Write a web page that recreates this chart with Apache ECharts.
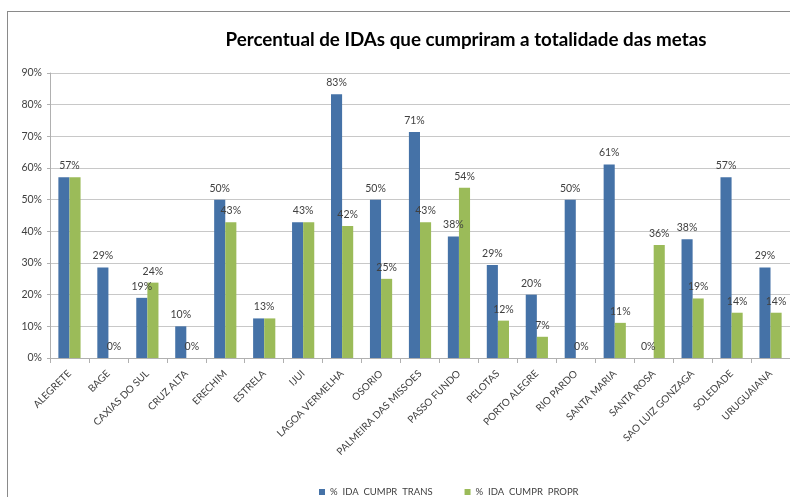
<!DOCTYPE html>
<html><head><meta charset="utf-8">
<script src="https://cdn.jsdelivr.net/npm/echarts@6/dist/echarts.min.js"></script>
<style>
html,body{margin:0;padding:0;background:#fff;}
#c{width:790px;height:497px;position:absolute;left:0;top:0;}
#frame{position:absolute;left:7px;top:11px;width:800px;height:500px;border-left:1.5px solid #8a8a8a;border-top:1.5px solid #8a8a8a;pointer-events:none;}
</style></head>
<body>
<div id="frame"></div>
<div id="c"></div>
<script>
var titleText = 'Percentual de IDAs que cumpriram a totalidade das metas';
var categories = ['ALEGRETE','BAGE','CAXIAS DO SUL','CRUZ ALTA','ERECHIM','ESTRELA','IJUI','LAGOA VERMELHA','OSORIO','PALMEIRA DAS MISSOES','PASSO FUNDO','PELOTAS','PORTO ALEGRE','RIO PARDO','SANTA MARIA','SANTA ROSA','SAO LUIZ GONZAGA','SOLEDADE','URUGUAIANA'];
var seriesNames = ['%  IDA  CUMPR  TRANS','%  IDA  CUMPR  PROPR'];
var transValues = [57.1, 28.6, 19.0, 10.0, 50.0, 12.5, 42.9, 83.3, 50.0, 71.4, 38.4, 29.4, 20.0, 50.0, 61.1, 0, 37.5, 57.1, 28.6];
var proprValues = [57.1, 0, 23.8, 0, 42.9, 12.5, 42.9, 41.7, 25.0, 42.9, 53.8, 11.8, 6.7, 0, 11.1, 35.7, 18.8, 14.3, 14.3];
var yTicks = [0,10,20,30,40,50,60,70,80,90];

var font = 'Lato, "Open Sans", sans-serif';
var chart = echarts.init(document.getElementById('c'), null, {renderer:'canvas'});
function pct(v){return Math.round(v)+'%';}
var baseLabel = {show:true, position:'top', distance:6, color:'#404040', fontSize:10.5, fontFamily:font};
function buildData(vals, other, isFirst){
  return vals.map(function(v,i){
    var same = Math.round(v) === Math.round(other[i]);
    if (same) {
      return isFirst ? {value:v, label:{offset:[5.5,0]}} : {value:v, label:{show:false}};
    }
    return v;
  });
}
chart.setOption({
  animation:false,
  backgroundColor:'transparent',
  title:{text:titleText, left:461, top:25, textAlign:'center',
    textStyle:{fontFamily:font, fontWeight:'bold', fontSize:18.8, color:'#000'}},
  legend:{top:482, left:314, itemWidth:6, itemHeight:6, itemGap:32,
    icon:'rect', data:seriesNames,
    textStyle:{fontFamily:font, fontSize:9.5, color:'#404040'}},
  grid:{left:50, right:-6, top:73, bottom:139, containLabel:false},
  xAxis:{type:'category', data:categories,
    axisLine:{lineStyle:{color:'#b0b0b0'}},
    axisTick:{show:true, length:5, lineStyle:{color:'#b0b0b0'}},
    axisLabel:{rotate:45, interval:0, fontFamily:font, fontSize:10, color:'#404040', margin:14}},
  yAxis:{type:'value', min:yTicks[0], max:yTicks[yTicks.length-1], interval:10,
    axisLine:{show:true, lineStyle:{color:'#b0b0b0'}},
    axisTick:{show:true, length:3, lineStyle:{color:'#b0b0b0'}},
    splitLine:{lineStyle:{color:'#c8c8c8'}},
    axisLabel:{formatter:'{value}%', fontFamily:font, fontSize:10.5, color:'#404040', margin:8}},
  series:[
    {name:seriesNames[0], type:'bar', data:buildData(transValues, proprValues, true), barGap:'0%', barCategoryGap:'43%',
     itemStyle:{color:'#4572a7'}, label:Object.assign({formatter:function(p){return pct(p.value);}}, baseLabel)},
    {name:seriesNames[1], type:'bar', data:buildData(proprValues, transValues, false), barGap:'0%', barCategoryGap:'43%',
     itemStyle:{color:'#9bbb59'}, label:Object.assign({formatter:function(p){return pct(p.value);}}, baseLabel)}
  ]
});
</script>
</body></html>
